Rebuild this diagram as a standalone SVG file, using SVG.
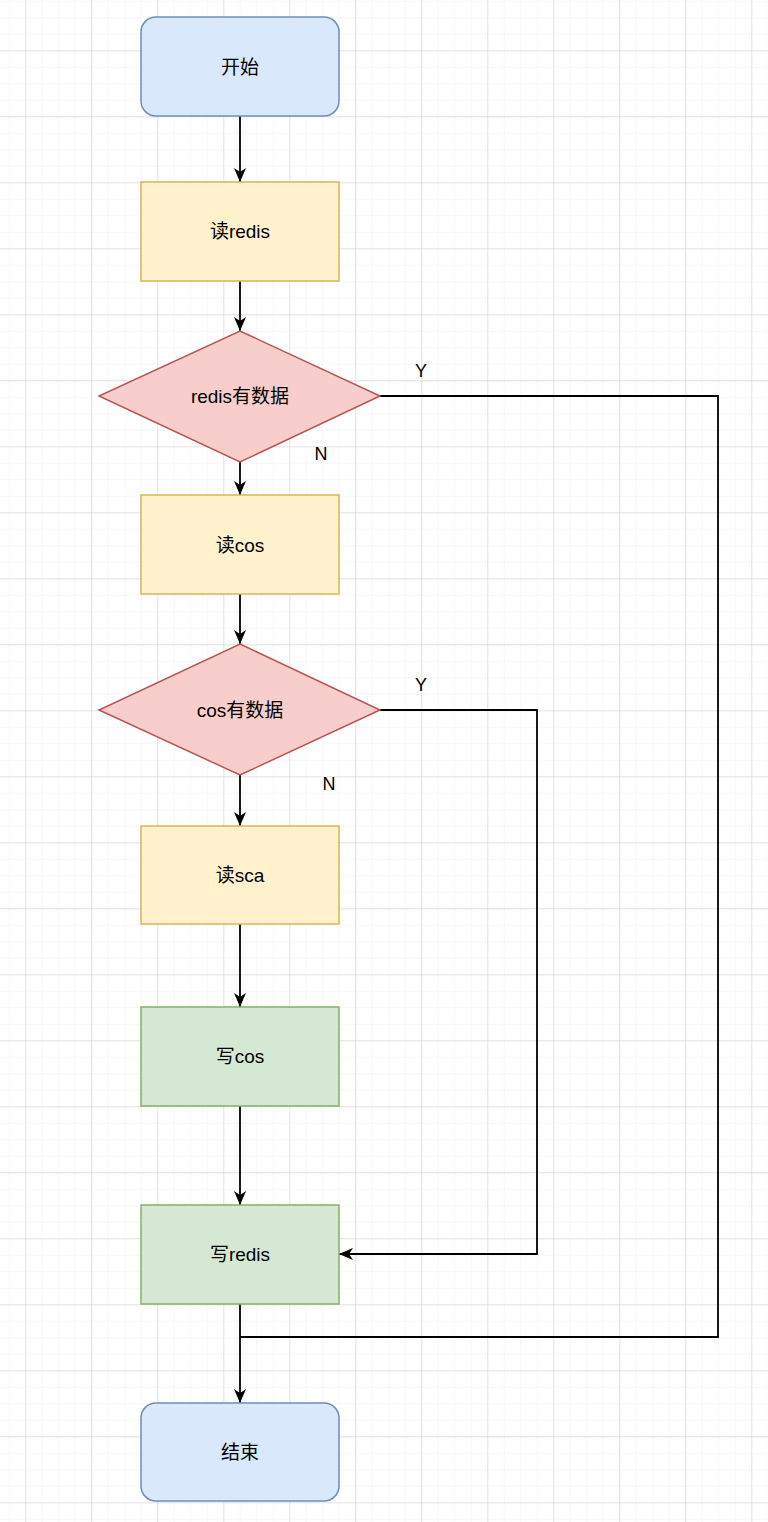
<svg xmlns="http://www.w3.org/2000/svg" width="768" height="1522" viewBox="0 0 768 1522">
<defs>
<pattern id="minor" x="-40.7" y="-15.7" width="16.5" height="16.5" patternUnits="userSpaceOnUse">
<path d="M0 0H16.5M0 0V16.5" fill="none" stroke="#efefef" stroke-width="1"/>
</pattern>
<pattern id="major" x="-40.7" y="-15.7" width="66" height="66" patternUnits="userSpaceOnUse">
<path d="M0 0H66M0 0V66" fill="none" stroke="#d0d0d0" stroke-width="1"/>
</pattern>
<marker id="arr" viewBox="0 0 14 12" refX="14" refY="6" markerWidth="14" markerHeight="12" markerUnits="userSpaceOnUse" orient="auto">
<path d="M0 0L14 6L0 12L4 6Z" fill="#000"/>
</marker>
</defs>
<style>
.blue{fill:#dae8fc;stroke:#6c8ebf;stroke-width:1.5}
.yel{fill:#fff2cc;stroke:#d6b656;stroke-width:1.5}
.red{fill:#f8cecc;stroke:#b85450;stroke-width:1.5}
.grn{fill:#d5e8d4;stroke:#82b366;stroke-width:1.5}
.t{font-family:"Liberation Sans","Noto Sans CJK SC",sans-serif;font-size:19px;fill:#000;text-anchor:middle;dominant-baseline:central}
.l{font-family:"Liberation Sans","Noto Sans CJK SC",sans-serif;font-size:18px;fill:#000;text-anchor:middle;dominant-baseline:central}
.c{fill:none;stroke:#000;stroke-width:1.8}
</style>
<rect width="768" height="1522" fill="#fff"/>
<rect width="768" height="1522" fill="url(#minor)"/>
<rect width="768" height="1522" fill="url(#major)"/>

<g id="connectors">
<path class="c" d="M240 116V182" marker-end="url(#arr)"/>
<path class="c" d="M240 281V331" marker-end="url(#arr)"/>
<path class="c" d="M240 462V495" marker-end="url(#arr)"/>
<path class="c" d="M240 594V644" marker-end="url(#arr)"/>
<path class="c" d="M240 775V826" marker-end="url(#arr)"/>
<path class="c" d="M240 924V1007" marker-end="url(#arr)"/>
<path class="c" d="M240 1106V1205" marker-end="url(#arr)"/>
<path class="c" d="M240 1304V1403" marker-end="url(#arr)"/>
<path class="c" d="M380 396H718V1337H240"/>
<path class="c" d="M380 710H537V1254H339" marker-end="url(#arr)"/>
<text class="l" x="421" y="371">Y</text>
<text class="l" x="321" y="454">N</text>
<text class="l" x="421" y="685">Y</text>
<text class="l" x="329" y="784">N</text>
</g>

<g id="start"><rect class="blue" x="141" y="17" width="198" height="99" rx="15"/><text class="t" x="240" y="67">开始</text></g>
<g id="read-redis"><rect class="yel" x="141" y="182" width="198" height="99"/><text class="t" x="240" y="231">读redis</text></g>
<g id="redis-has-data"><path class="red" d="M240 331L380 396L240 462L99 396Z"/><text class="t" x="240" y="396">redis有数据</text></g>
<g id="read-cos"><rect class="yel" x="141" y="495" width="198" height="99"/><text class="t" x="240" y="545">读cos</text></g>
<g id="cos-has-data"><path class="red" d="M240 644L380 710L240 775L99 710Z"/><text class="t" x="240" y="710">cos有数据</text></g>
<g id="read-sca"><rect class="yel" x="141" y="826" width="198" height="98"/><text class="t" x="240" y="875">读sca</text></g>
<g id="write-cos"><rect class="grn" x="141" y="1007" width="198" height="99"/><text class="t" x="240" y="1056">写cos</text></g>
<g id="write-redis"><rect class="grn" x="141" y="1205" width="198" height="99"/><text class="t" x="240" y="1254">写redis</text></g>
<g id="end"><rect class="blue" x="141" y="1403" width="198" height="98" rx="15"/><text class="t" x="240" y="1452">结束</text></g>
</svg>
